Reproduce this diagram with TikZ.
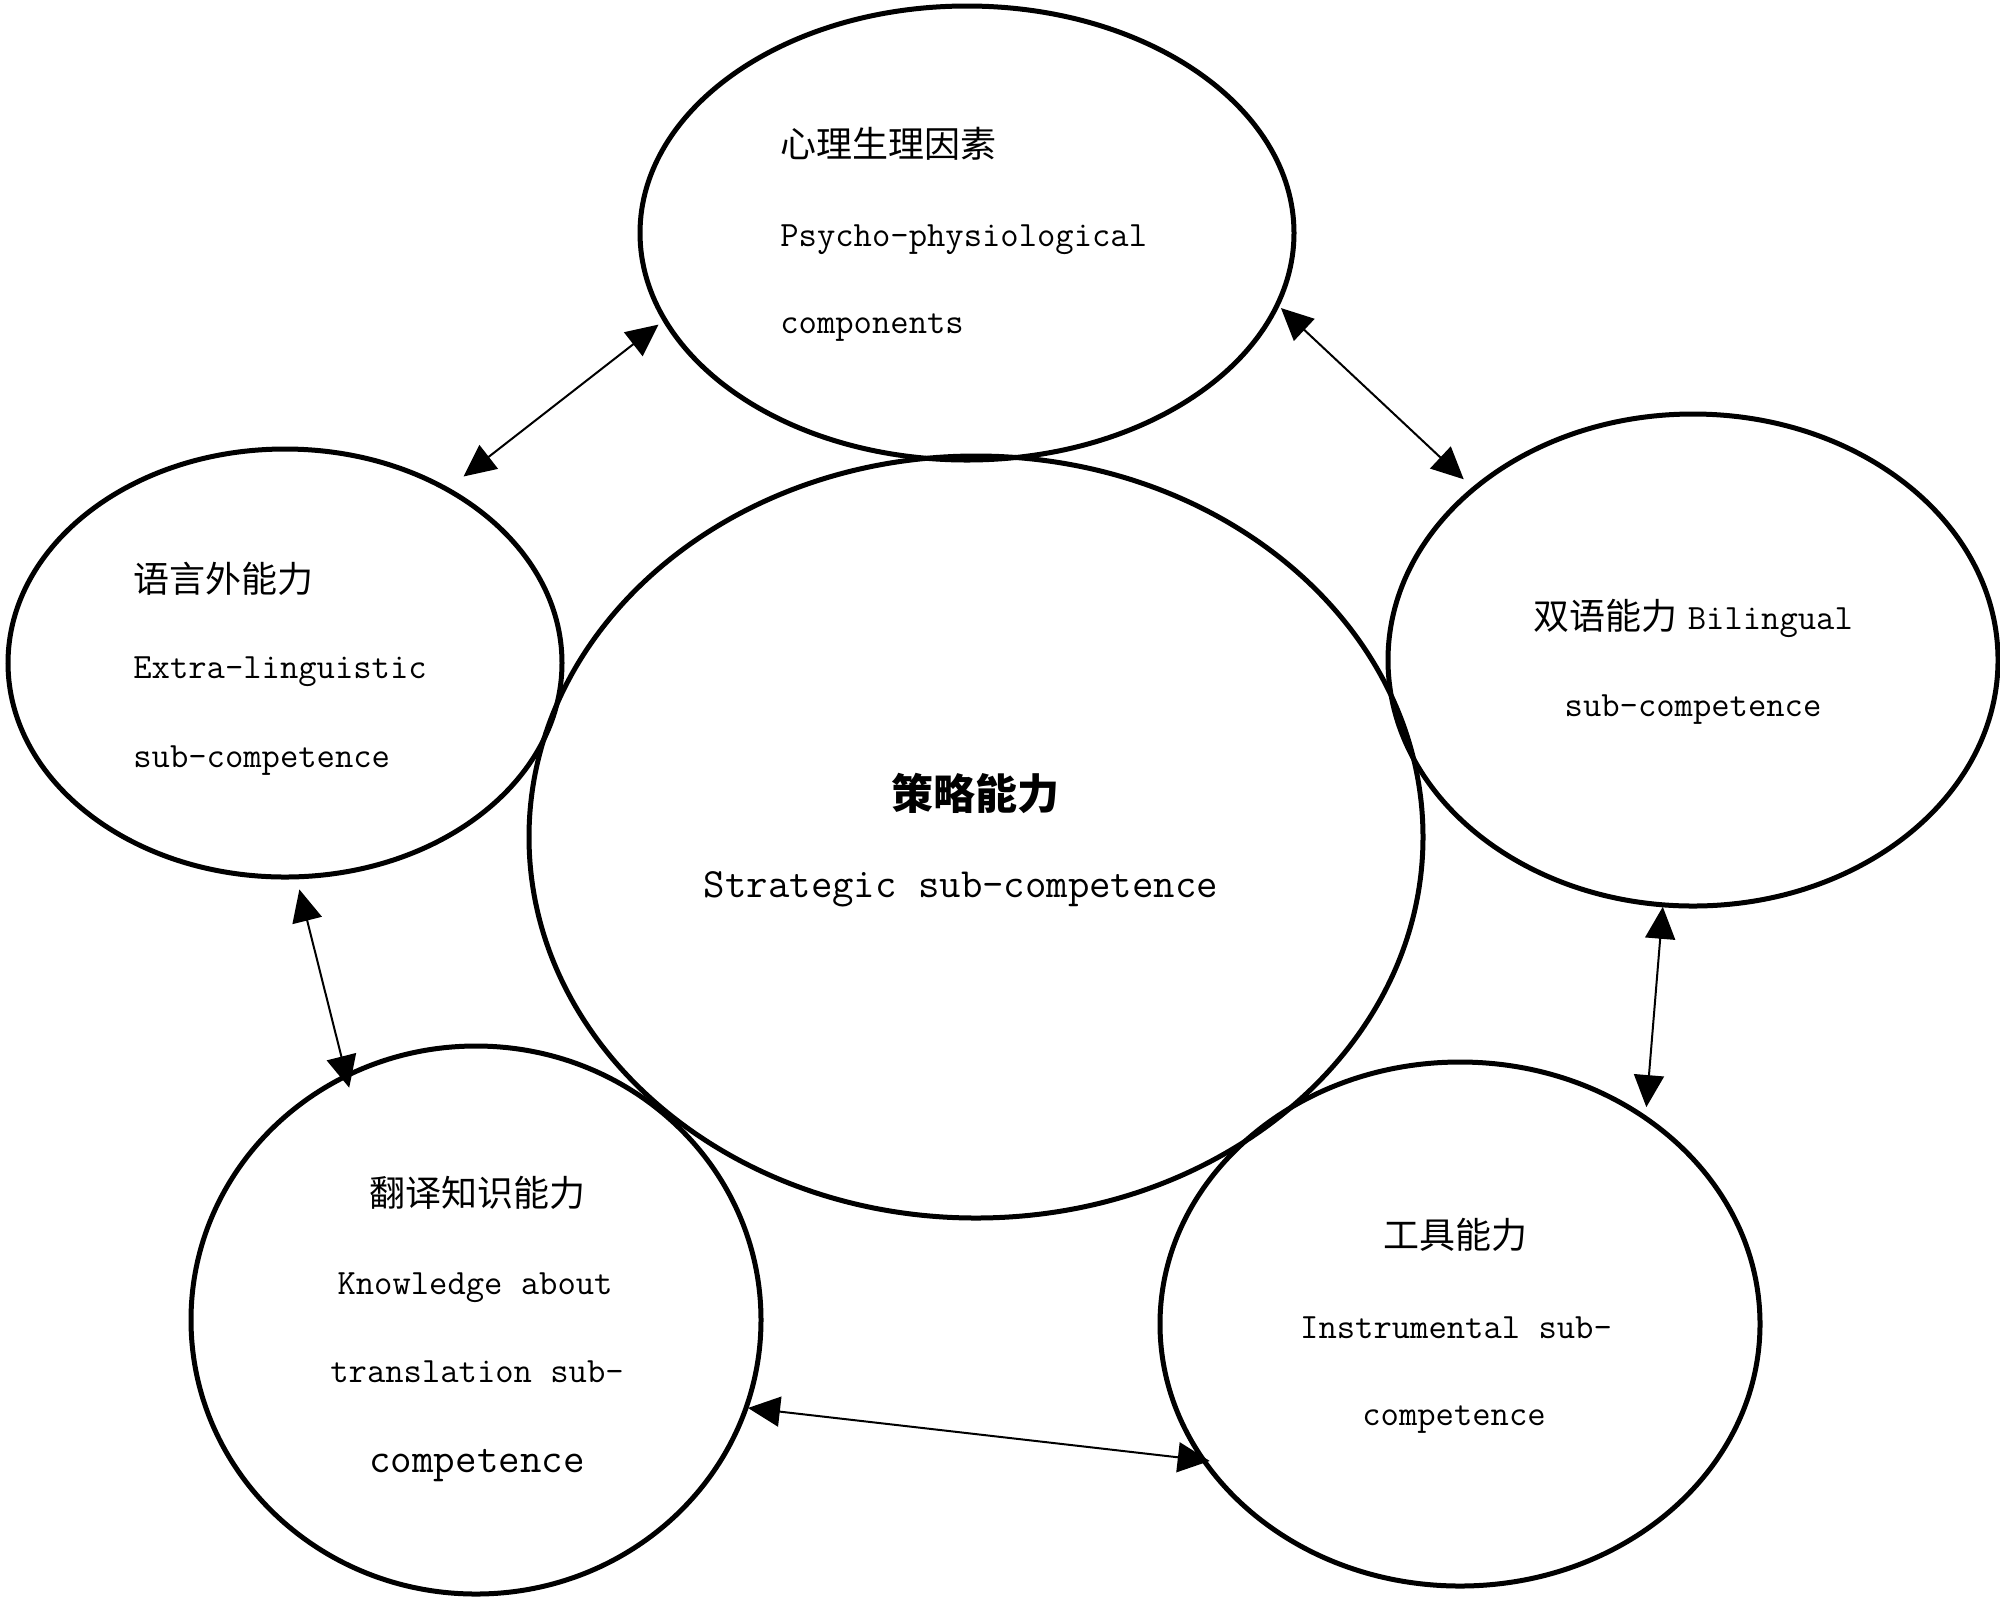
\documentclass[tikz,border=0pt]{standalone}
\usepackage{fontspec}
\newfontfamily\cjk{Noto Sans CJK SC}
\usetikzlibrary{shapes.geometric,arrows.meta}
\tikzset{
  ell/.style={draw, line width=2.5pt, ellipse, inner sep=0pt, outer sep=0pt},
  cjktxt/.style={inner sep=0pt, font=\cjk\fontsize{18}{20}\selectfont},
  lattxt/.style={inner sep=0pt, font=\ttfamily\fontsize{17.8}{20}\selectfont},
  link/.style={{Triangle[length=16pt,width=15pt]}-{Triangle[length=16pt,width=15pt]}, line width=1pt},
}
\begin{document}
\begin{tikzpicture}[x=0.5pt,y=-0.5pt]
\fill[white] (0,0) rectangle (2000,1602);
\useasboundingbox (0,0) rectangle (2000,1602);

% ellipses
\node[ell, minimum width=327pt, minimum height=227pt] (T) at (967,233) {};
\node[ell, minimum width=277pt, minimum height=214pt] (L) at (285,663) {};
\node[ell, minimum width=447pt, minimum height=381pt] (C) at (976,837) {};
\node[ell, minimum width=305pt, minimum height=246pt] (R) at (1693,660) {};
\node[ell, minimum width=285pt, minimum height=274pt] (BL) at (476,1320) {};
\node[ell, minimum width=300pt, minimum height=262pt] (BR) at (1460,1324) {};

% texts: top
\node[cjktxt, anchor=base west] (t1) at (780,157) {心理生理因素};
\node[lattxt, anchor=base west] (t2) at (780,246) {Psycho-physiological};
\node[lattxt, anchor=base west] (t3) at (780,333) {components};
% left
\node[cjktxt, anchor=base west] (l1) at (133,592) {语言外能力};
\node[lattxt, anchor=base west] (l2) at (133,678) {Extra-linguistic};
\node[lattxt, anchor=base west] (l3) at (133,767) {sub-competence};
% right
\node[lattxt, anchor=base] (r1) at (1693,629) {{\cjk\fontsize{18}{20}\selectfont 双语能力}\hspace{0.3em}Bilingual};
\node[lattxt, anchor=base] (r2) at (1693,716) {sub-competence};
% bottom left
\node[cjktxt, anchor=base] (bl1) at (477,1206) {翻译知识能力};
\node[lattxt, anchor=base] (bl2) at (475,1294) {Knowledge about};
\node[lattxt, anchor=base] (bl3) at (477,1382) {translation sub-};
\node[lattxt, anchor=base, font=\ttfamily\fontsize{20.9}{22}\selectfont] (bl4) at (477,1472) {competence};
% bottom right
\node[cjktxt, anchor=base] (br1) at (1455,1248) {工具能力};
\node[lattxt, anchor=base] (br2) at (1456,1338) {Instrumental sub-};
\node[lattxt, anchor=base] (br3) at (1454,1425) {competence};
% center
\node[inner sep=0pt, anchor=base, font=\cjk\bfseries\fontsize{21}{24}\selectfont] (c1) at (975,809) {策略能力};
\node[inner sep=0pt, anchor=base, font=\ttfamily\fontsize{20.8}{24}\selectfont] (c2) at (961,897) {Strategic sub-competence};

% connectors
\draw[link, shorten <=4pt, shorten >=10.5pt] (T.196.9) -- (L.47.4);
\draw[link, shorten <=2.5pt, shorten >=7pt] (T.347.3) -- (R.142.2);
\draw[link, shorten <=1pt, shorten >=5.5pt] (R.263.8) -- (BR.48.7);
\draw[link, shorten <=1pt, shorten >=-3pt] (BL.342.9) -- (BR.208.4);
\draw[link, shorten <=6.5pt, shorten >=-6pt] (L.273.5) -- (BL.118.0);
\end{tikzpicture}
\end{document}
